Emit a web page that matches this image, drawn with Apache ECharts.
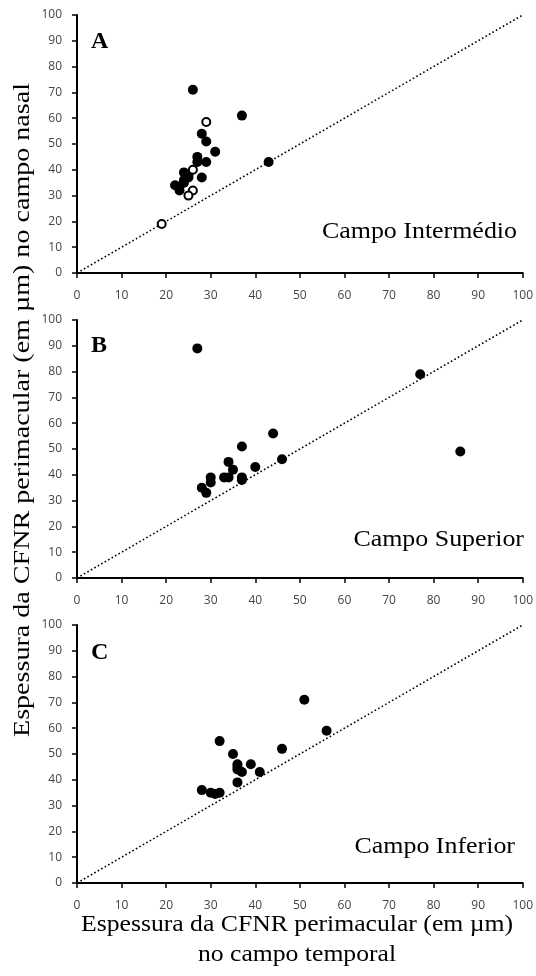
<!DOCTYPE html>
<html><head><meta charset="utf-8">
<script src="https://cdn.jsdelivr.net/npm/echarts@6/dist/echarts.min.js"></script>
<style>html,body{margin:0;padding:0;background:#fff}#c{width:536px;height:976px}</style>
</head><body><div id="c"></div>
<script>
// Panel A – Campo Intermédio
const aFilled = [[26,71],[37,61],[28,54],[29,51],[31,47],[27,45],[27,43],[29,43],[43,43],[24,39],[25,38],[24,36],[28,37],[22,34],[23,32],[23,33.5],[24,35],[25,37]];
const aOpen = [[29,58.5],[26,40],[26,32],[25,30],[19,19]];
// Panel B – Campo Superior
const bFilled = [[27,89],[77,79],[44,56],[37,51],[86,49],[46,46],[34,45],[35,42],[40,43],[33,39],[34,39],[30,39],[30,37],[37,39],[37,38],[28,35],[29,33]];
// Panel C – Campo Inferior
const cFilled = [[51,71],[56,59],[32,55],[46,52],[35,50],[36,46],[39,46],[36,44],[37,43],[41,43],[36,39],[28,36],[30,35],[31,34.5],[32,35],[36,45]];
const panelLetters = ['A','B','C'];
const panelNames = ['Campo Intermédio','Campo Superior','Campo Inferior'];
const diagonal = [[0,0],[100,100]];

const tops = [15, 320, 625];
const letterY = [42, 345.5, 653];
const nameRight = [517, 524, 515];
const nameY = [232, 540, 847];
const gridH = 258;
const chart = echarts.init(document.getElementById('c'));
const grids = [], xAxes = [], yAxes = [], series = [], graphics = [];
function axis(i, margin) {
  return {
    type: 'value', gridIndex: i, min: 0, max: 100, interval: 10,
    axisLine: {show: true, lineStyle: {color: '#000', width: 2}},
    axisTick: {show: true, inside: false, length: 5, lineStyle: {color: '#000', width: 1.5}},
    splitLine: {show: false},
    axisLabel: {color: '#444', fontFamily: 'Open Sans', fontSize: 12, margin: margin}
  };
}
const dataSets = [[aFilled, aOpen], [bFilled, []], [cFilled, []]];
for (let i = 0; i < 3; i++) {
  grids.push({left: 77, right: 11, top: tops[i], height: gridH});
  xAxes.push(axis(i, 17));
  yAxes.push(axis(i, 15));
  series.push({type: 'line', xAxisIndex: i, yAxisIndex: i, data: diagonal, symbol: 'none', silent: true,
    lineStyle: {color: '#000', width: 1.6, type: [1.6, 2.4]}, z: 1});
  series.push({type: 'scatter', xAxisIndex: i, yAxisIndex: i, data: dataSets[i][0], symbol: 'circle', symbolSize: 10,
    itemStyle: {color: '#000', opacity: 1}, z: 3});
  if (dataSets[i][1].length) {
    series.push({type: 'scatter', xAxisIndex: i, yAxisIndex: i, data: dataSets[i][1], symbol: 'circle', symbolSize: 8,
      itemStyle: {color: '#fff', borderColor: '#000', borderWidth: 2, opacity: 1}, z: 4});
  }
  graphics.push({type: 'text', x: 91, y: letterY[i],
    style: {text: panelLetters[i], font: 'bold 24px "Liberation Serif"', fill: '#000', verticalAlign: 'middle'}});
  graphics.push({type: 'text', x: nameRight[i], y: nameY[i], scaleX: 1.08,
    style: {text: panelNames[i], font: '24px "Liberation Serif"', fill: '#000', align: 'right', verticalAlign: 'middle'}});
}
graphics.push({type: 'text', x: 23, y: 410, rotation: Math.PI / 2, scaleX: 1.17,
  style: {text: 'Espessura da CFNR perimacular (em µm) no campo nasal', font: '24px "Liberation Serif"', fill: '#000',
  align: 'center', verticalAlign: 'middle'}});
graphics.push({type: 'text', x: 297, y: 925, scaleX: 1.07,
  style: {text: 'Espessura da CFNR perimacular (em µm)', font: '24px "Liberation Serif"', fill: '#000',
  align: 'center', verticalAlign: 'middle'}});
graphics.push({type: 'text', x: 297, y: 955, scaleX: 1.07,
  style: {text: 'no campo temporal', font: '24px "Liberation Serif"', fill: '#000',
  align: 'center', verticalAlign: 'middle'}});
chart.setOption({
  animation: false,
  grid: grids, xAxis: xAxes, yAxis: yAxes, series: series, graphic: graphics
});
</script></body></html>
